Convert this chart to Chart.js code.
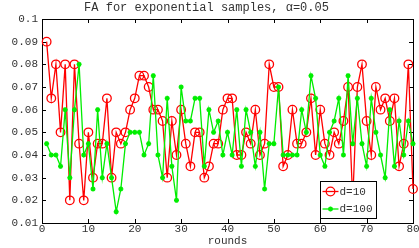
<!DOCTYPE html>
<html><head><meta charset="utf-8">
<script src="https://cdn.jsdelivr.net/npm/chart.js@4/dist/chart.umd.min.js"></script>
<style>html,body{margin:0;padding:0;background:#fff;overflow:hidden}</style>
</head><body>
<canvas id="c" width="419" height="248"></canvas>
<script>
const rounds = [1,2,3,4,5,6,7,8,9,10,11,12,13,14,15,16,17,18,19,20,21,22,23,24,25,26,27,28,29,30,31,32,33,34,35,36,37,38,39,40,41,42,43,44,45,46,47,48,49,50,51,52,53,54,55,56,57,58,59,60,61,62,63,64,65,66,67,68,69,70,71,72,73,74,75,76,77,78,79,80];
const d10 = [0.09,0.065,0.08,0.05,0.08,0.02,0.08,0.045,0.02,0.05,
  0.03,0.045,0.045,0.065,0.03,0.05,0.045,0.05,0.06,0.065,
  0.075,0.075,0.07,0.06,0.06,0.055,0.03,0.055,0.04,0.06,
  0.045,0.035,0.05,0.05,0.03,0.035,0.045,0.045,0.06,0.065,
  0.065,0.04,0.04,0.05,0.045,0.06,0.04,0.045,0.08,0.07,
  0.07,0.035,0.04,0.06,0.045,0.045,0.05,0.065,0.04,0.06,
  0.045,0.04,0.05,0.045,0.055,0.07,0.02,0.07,0.08,0.055,
  0.04,0.07,0.06,0.065,0.055,0.065,0.035,0.045,0.08,0.025];
const d100 = [0.045,0.04,0.04,0.035,0.06,0.03,0.06,0.08,0.04,0.045,
  0.025,0.06,0.03,0.045,0.03,0.015,0.025,0.045,0.05,0.05,
  0.05,0.04,0.045,0.075,0.04,0.03,0.065,0.035,0.02,0.07,
  0.055,0.055,0.065,0.065,0.035,0.06,0.05,0.055,0.04,0.05,
  0.04,0.06,0.035,0.06,0.05,0.035,0.05,0.025,0.045,0.045,
  0.07,0.04,0.04,0.04,0.04,0.06,0.05,0.075,0.065,0.04,
  0.035,0.05,0.055,0.065,0.04,0.075,0.045,0.065,0.045,0.035,
  0.065,0.05,0.04,0.03,0.06,0.035,0.055,0.04,0.055,0.045];
const xTicks = [0,10,20,30,40,50,60,70,80];
const yTicks = [0.01,0.02,0.03,0.04,0.05,0.06,0.07,0.08,0.09,0.1];
const seriesNames = ['d=10','d=100'];
const titleText = 'FA for exponential samples, \u03b1=0.05';
const xTitle = 'rounds';

const RED = '#ff0000', GREEN = '#00ee00';
const FONT = "'Liberation Mono', 'DejaVu Sans Mono', monospace";
const TXT = '#333333';

const frame = {
  id: 'frame',
  beforeDatasetsDraw(chart) {
    const {ctx, chartArea: a, scales: {x, y}} = chart;
    ctx.save();
    ctx.strokeStyle = '#000'; ctx.lineWidth = 1;
    ctx.beginPath();
    xTicks.forEach(v => {
      const px = Math.round(x.getPixelForValue(v)) + 0.5;
      ctx.moveTo(px, a.bottom); ctx.lineTo(px, a.bottom - 4);
      ctx.moveTo(px, a.top); ctx.lineTo(px, a.top + 4);
    });
    yTicks.forEach(v => {
      const py = Math.round(y.getPixelForValue(v)) + 0.5;
      ctx.moveTo(a.left, py); ctx.lineTo(a.left + 4, py);
      ctx.moveTo(a.right, py); ctx.lineTo(a.right - 4, py);
    });
    ctx.stroke();
    ctx.strokeRect(Math.round(a.left) + 0.5, Math.round(a.top) + 0.5,
      Math.round(a.right - a.left), Math.round(a.bottom - a.top));
    ctx.restore();
  }
};

function star(ctx, cx, cy, r) {
  ctx.beginPath();
  ctx.moveTo(cx - r, cy); ctx.lineTo(cx + r, cy);
  ctx.moveTo(cx, cy - r); ctx.lineTo(cx, cy + r);
  const d = r * 0.707;
  ctx.moveTo(cx - d, cy - d); ctx.lineTo(cx + d, cy + d);
  ctx.moveTo(cx - d, cy + d); ctx.lineTo(cx + d, cy - d);
  ctx.stroke();
}

const legendBox = {
  id: 'legendBox',
  afterDraw(chart) {
    const {ctx, chartArea: a} = chart;
    const bw = 56, bh = 37;
    const bx = Math.round(a.right) - 92.5, by = Math.round(a.bottom) - 41.5;
    ctx.save();
    ctx.fillStyle = '#fff';
    ctx.fillRect(bx, by, bw, bh);
    ctx.strokeStyle = '#000'; ctx.lineWidth = 1;
    ctx.strokeRect(bx, by, bw, bh);
    const rows = [by + 10, by + 27.5];
    ctx.strokeStyle = RED; ctx.lineWidth = 1.3;
    ctx.beginPath(); ctx.moveTo(bx + 2, rows[0]); ctx.lineTo(bx + 18, rows[0]); ctx.stroke();
    ctx.beginPath(); ctx.arc(bx + 10, rows[0], 4.3, 0, Math.PI * 2); ctx.stroke();
    ctx.strokeStyle = GREEN; ctx.lineWidth = 1.3;
    ctx.beginPath(); ctx.moveTo(bx + 2, rows[1]); ctx.lineTo(bx + 18, rows[1]); ctx.stroke();
    ctx.lineWidth = 1.5; star(ctx, bx + 10, rows[1], 2.5);
    ctx.fillStyle = TXT; ctx.font = '11px ' + FONT;
    ctx.textBaseline = 'middle'; ctx.textAlign = 'left';
    ctx.fillText(seriesNames[0], bx + 19, rows[0] + 0.5);
    ctx.fillText(seriesNames[1], bx + 19, rows[1] + 0.5);
    ctx.restore();
  }
};

new Chart(document.getElementById('c'), {
  type: 'line',
  data: {
    labels: rounds,
    datasets: [
      { label: seriesNames[0], data: rounds.map((r, i) => ({x: r, y: d10[i]})),
        borderColor: RED, backgroundColor: 'rgba(0,0,0,0)', borderWidth: 1.3,
        pointStyle: 'circle', pointRadius: 4.3, pointBorderWidth: 1.3,
        pointBorderColor: RED, pointBackgroundColor: 'rgba(0,0,0,0)',
        tension: 0, clip: 10, order: 1 },
      { label: seriesNames[1], data: rounds.map((r, i) => ({x: r, y: d100[i]})),
        borderColor: GREEN, backgroundColor: GREEN, borderWidth: 1.3,
        pointStyle: 'star', pointRadius: 2.5, pointBorderWidth: 1.5,
        pointBorderColor: GREEN, pointBackgroundColor: GREEN,
        tension: 0, clip: 10, order: 0 }
    ]
  },
  options: {
    responsive: false, animation: false, devicePixelRatio: 1,
    layout: { padding: { left: 0, right: 6, top: 0, bottom: 0 } },
    plugins: {
      legend: { display: false }, tooltip: { enabled: false },
      title: { display: true, text: titleText, color: TXT,
        font: { family: FONT, size: 12, weight: 'normal' },
        padding: { top: 1, bottom: 3.6 } }
    },
    scales: {
      x: { type: 'linear', min: 0, max: 80,
        afterBuildTicks: s => { s.ticks = xTicks.map(v => ({value: v})); },
        afterFit: s => { s.height = 25; },
        grid: { display: false, drawTicks: false }, border: { display: false },
        ticks: { color: TXT, font: { family: FONT, size: 11 }, padding: -1, maxRotation: 0 },
        title: { display: true, text: xTitle, color: TXT, font: { family: FONT, size: 11 }, padding: 0 } },
      y: { type: 'linear', min: 0.01, max: 0.1,
        afterBuildTicks: s => { s.ticks = yTicks.map(v => ({value: v})); },
        afterFit: s => { s.width = 42; },
        grid: { display: false, drawTicks: false }, border: { display: false },
        ticks: { color: TXT, font: { family: FONT, size: 11 }, padding: 4,
          callback: v => String(+(+v).toFixed(2)) } }
    }
  },
  plugins: [frame, legendBox]
});
</script>
</body></html>
